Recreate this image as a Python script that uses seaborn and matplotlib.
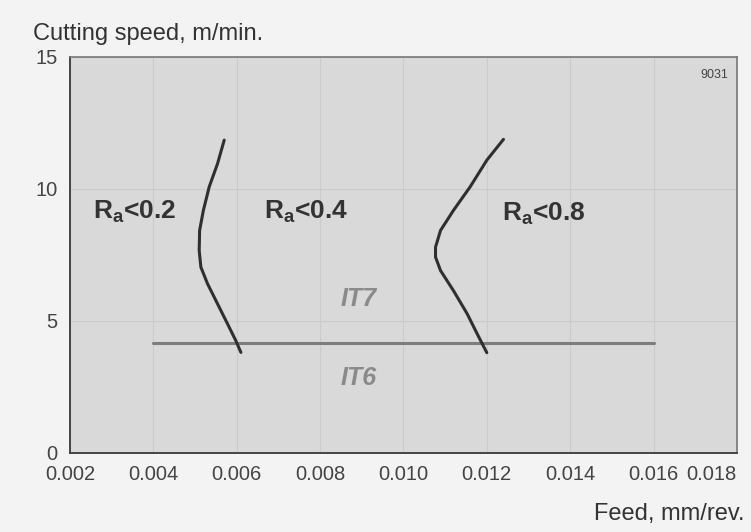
# Surface finish / tolerance chart: cutting speed vs feed
import matplotlib
matplotlib.use("Agg")
import matplotlib.pyplot as plt
import seaborn as sns
import pandas as pd

# Boundary between Ra<0.2 and Ra<0.4
curve_a_feed = [0.00570, 0.00554, 0.00534, 0.00520, 0.00511, 0.00510, 0.00514,
                0.00530, 0.00554, 0.00578, 0.00598, 0.00610]
curve_a_speed = [11.85, 10.96, 10.08, 9.19, 8.43, 7.67, 7.04, 6.41, 5.65, 4.89, 4.25, 3.81]

# Boundary between Ra<0.4 and Ra<0.8
curve_b_feed = [0.01240, 0.01200, 0.01160, 0.01120, 0.01089, 0.01077, 0.01077,
                0.01089, 0.01120, 0.01153, 0.01177, 0.01200]
curve_b_speed = [11.88, 11.09, 10.08, 9.19, 8.43, 7.80, 7.42, 6.91, 6.15, 5.27, 4.51, 3.80]

# IT7 / IT6 limit
it_feed = [0.004, 0.016]
it_speed = [4.18, 4.18]

x_ticks = [0.002, 0.004, 0.006, 0.008, 0.010, 0.012, 0.014, 0.016, 0.018]
y_ticks = [0, 5, 10, 15]

df_a = pd.DataFrame({"feed": curve_a_feed, "speed": curve_a_speed})
df_b = pd.DataFrame({"feed": curve_b_feed, "speed": curve_b_speed})
df_it = pd.DataFrame({"feed": it_feed, "speed": it_speed})

sns.set_style("whitegrid")
plt.rcParams["font.family"] = ["Liberation Sans", "DejaVu Sans"]
plt.rcParams["mathtext.fontset"] = "custom"
plt.rcParams["mathtext.rm"] = "Liberation Sans"
plt.rcParams["mathtext.bf"] = "Liberation Sans:bold"

fig = plt.figure(figsize=(7.51, 5.32), dpi=100, facecolor="#f3f3f3")
ax = fig.add_axes([0.0932, 0.1485, 0.888, 0.7444])
ax.set_facecolor("#d9d9d9")

line_kw = dict(ax=ax, sort=False, estimator=None, linewidth=2.2)
sns.lineplot(data=df_it, x="feed", y="speed", color="#7d7d7d", **line_kw)
sns.lineplot(data=df_a, x="feed", y="speed", color="#2f2f2f", **line_kw)
sns.lineplot(data=df_b, x="feed", y="speed", color="#2f2f2f", **line_kw)
for line in ax.lines:
    line.set_solid_joinstyle("round")
    line.set_solid_capstyle("round")

ax.set_xlim(0.002, 0.018)
ax.set_ylim(0, 15)
ax.set_xticks(x_ticks)
ax.set_xticklabels([f"{t:.3f}" for t in x_ticks])
ax.get_xticklabels()[-1].set_horizontalalignment("right")
ax.set_yticks(y_ticks)
ax.grid(True, color="#cbcbcb", linewidth=0.8)
ax.tick_params(axis="both", labelsize=14.5, colors="#444444", width=1)
ax.tick_params(axis="x", length=0, pad=9)
ax.tick_params(axis="y", direction="out", length=5, pad=4)

for side in ["left", "bottom"]:
    ax.spines[side].set_color("#444444")
    ax.spines[side].set_linewidth(1.4)
for side in ["top", "right"]:
    ax.spines[side].set_color("#777777")
    ax.spines[side].set_linewidth(1.2)

ax.set_xlabel("")
ax.set_ylabel("")
fig.text(0.044, 0.937, "Cutting speed, m/min.", fontsize=17, color="#333333", ha="left", va="center")
fig.text(0.992, 0.034, "Feed, mm/rev.", fontsize=17, color="#333333", ha="right", va="center")

label_kw = dict(fontsize=19, fontweight="bold", color="#333333", ha="left", va="center")
ax.text(0.00255, 9.15, r"$\mathbf{R_a}$<0.2", **label_kw)
ax.text(0.00665, 9.15, r"$\mathbf{R_a}$<0.4", **label_kw)
ax.text(0.01237, 9.05, r"$\mathbf{R_a}$<0.8", **label_kw)

it_kw = dict(fontsize=18, fontweight="bold", style="italic", color="#8a8a8a", ha="center", va="center")
ax.text(0.00892, 5.85, "IT7", **it_kw)
ax.text(0.00892, 2.85, "IT6", **it_kw)

ax.text(0.0178, 14.3, "9031", fontsize=9, color="#444444", ha="right", va="center")

plt.savefig("out.png", dpi=100, facecolor=fig.get_facecolor())
